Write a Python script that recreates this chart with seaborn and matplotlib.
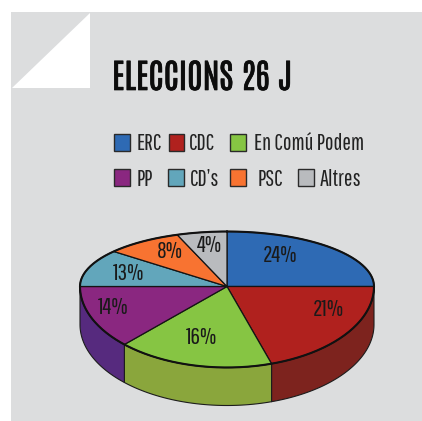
import numpy as np
import matplotlib
matplotlib.use('Agg')
import matplotlib.pyplot as plt
import matplotlib.patheffects as pe
from matplotlib.patches import Polygon, Rectangle
import seaborn as sns

parties = ['ERC', 'CDC', 'En Comú Podem', 'PP', 'CD’s', 'PSC', 'Altres']
labels = ['24%', '21%', '16%', '14%', '13%', '8%', '4%']
# slice sizes as drawn (the picture does not follow its labels exactly)
shares = [25.0, 20.1, 17.2, 12.7, 11.0, 8.5, 5.5]
colors = ['#2e6ab4', '#b0211e', '#86c543', '#8a2780', '#62a6bb', '#f87331', '#b9bbbe']
side_colors = ['#24528c', '#7d231e', '#8aa63c', '#562a7e', '#4c8191', '#c05a27', '#909294']

sns.set_theme(style='white')
plt.rcParams['font.family'] = ['Pathway Gothic One', 'DejaVu Sans']

fig = plt.figure(figsize=(4.22, 4.21), dpi=100)
ax = fig.add_axes([0, 0, 1, 1])
ax.set_xlim(0, 422)
ax.set_ylim(421, 0)
ax.axis('off')

# background panel and folded corner
ax.add_patch(Rectangle((11, 12), 411, 409, fc='#dcddde', ec='none'))
ax.add_patch(Polygon([(12, 88), (90, 13), (90, 88)], fc='white', ec='none'))

title = ax.text(112, 90, 'ELECCIONS 26 J', fontsize=24.4, fontweight='bold',
                family=['Antonio', 'DejaVu Sans'], color='#0c0c0c', ha='left', va='baseline')
title.set_path_effects([pe.withStroke(linewidth=0.5, foreground='#0c0c0c')])

# legend
square_x = [114, 168.5, 230, 114, 168, 230, 298]
square_y = [133.5, 133.5, 133.5, 169, 169, 169, 169]
text_x = [136.5, 189, 254, 136.5, 190, 258, 320]
for i, party in enumerate(parties):
    ax.add_patch(Rectangle((square_x[i], square_y[i]), 15.5, 17, fc=colors[i],
                           ec='#2a2a2a', lw=1))
    ax.text(text_x[i], square_y[i] + 16.5, party, fontsize=16.4, color='#222222',
            ha='left', va='baseline')

# pie: the top half of the ellipse is flatter than the front half
cx, cy = 227, 286.5
rx, ry_back, ry_front = 147, 55, 81
depth = 38


def rim(theta):
    # theta in degrees, clockwise from 12 o'clock
    t = np.radians(theta)
    c = -np.cos(t)
    return cx + rx * np.sin(t), cy + c * np.where(c < 0, ry_back, ry_front)


edges = np.concatenate([[0], np.cumsum(shares)]) * 3.6
edges[-1] = 360

# side wall first, only the front half shows
for i in range(len(shares)):
    a, b = max(edges[i], 90), min(edges[i + 1], 270)
    if b <= a:
        continue
    th = np.linspace(a, b, 80)
    x, y = rim(th)
    xs = np.concatenate([x, x[::-1]])
    ys = np.concatenate([y, y[::-1] + depth])
    ax.fill(xs, ys, fc=side_colors[i], ec='#1c1c1c', lw=0.8, joinstyle='round')

# top face
for i in range(len(shares)):
    th = np.linspace(edges[i], edges[i + 1], 80)
    x, y = rim(th)
    ax.fill(np.r_[cx, x], np.r_[cy, y], fc=colors[i], ec='#141414', lw=0.9,
            joinstyle='round')

# heavier outer rim
th = np.linspace(0, 360, 361)
x, y = rim(th)
ax.plot(x, y, color='#111111', lw=1.5)

# percentage labels
label_x = [280, 328, 201, 113, 129, 170, 209]
label_y = [256, 310, 337, 308, 273, 252, 246]
for lx, ly, text in zip(label_x, label_y, labels):
    ax.text(lx, ly, text, fontsize=17, color='#1a1a1a', ha='center', va='center')

fig.savefig('out.png', dpi=100)
